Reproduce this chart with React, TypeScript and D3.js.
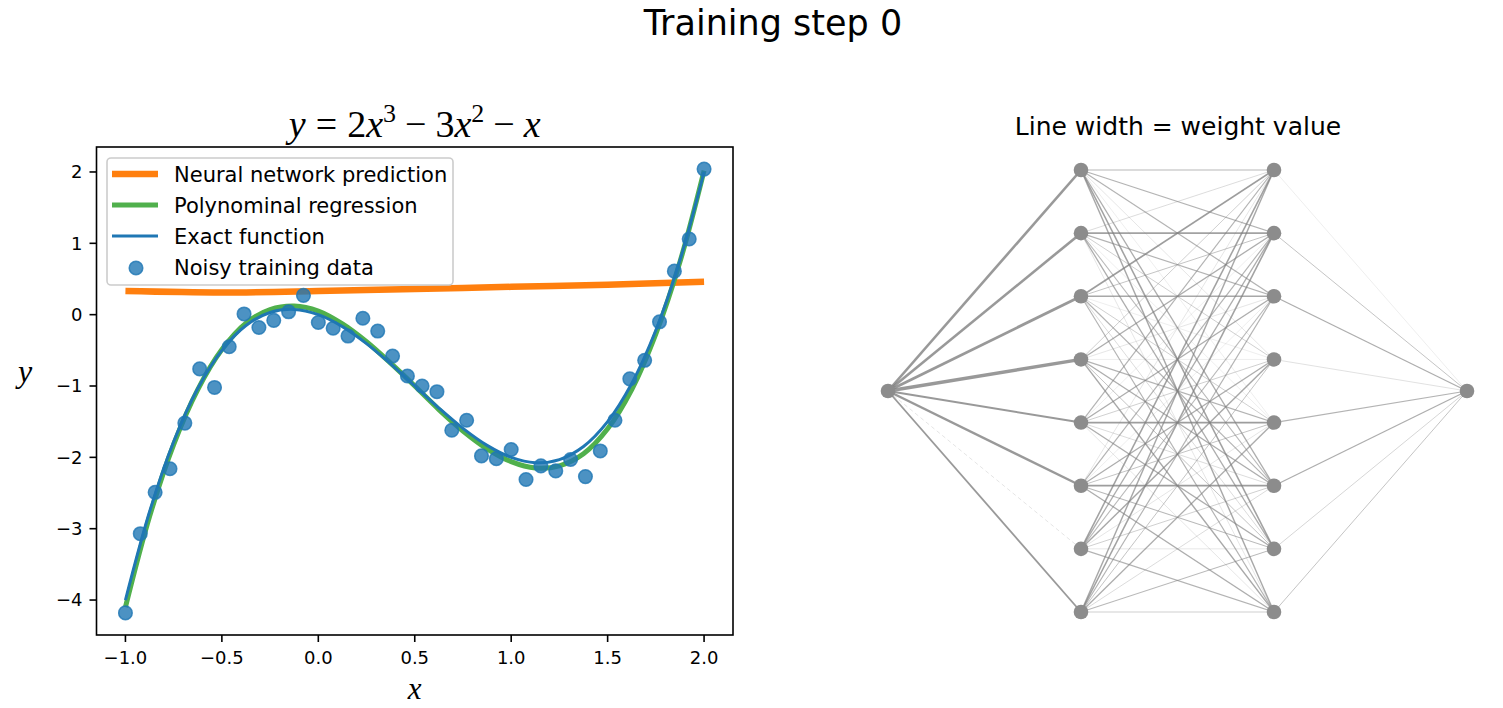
import React from 'react';
import * as d3 from 'd3';

// noisy samples
const dataX = [
  -1.0, -0.923, -0.846, -0.769, -0.692, -0.615, -0.538, -0.462, -0.385, -0.308,
  -0.231, -0.154, -0.077, 0.0, 0.077, 0.154, 0.231, 0.308, 0.385, 0.462,
  0.538, 0.615, 0.692, 0.769, 0.846, 0.923, 1.0, 1.077, 1.154, 1.231,
  1.308, 1.385, 1.462, 1.538, 1.615, 1.692, 1.769, 1.846, 1.923, 2.0,
];
const dataY = [
  -4.18, -3.07, -2.49, -2.16, -1.52, -0.76, -1.02, -0.45, 0.01, -0.18,
  -0.08, 0.04, 0.27, -0.11, -0.19, -0.3, -0.05, -0.23, -0.58, -0.86,
  -1.0, -1.08, -1.62, -1.48, -1.98, -2.02, -1.89, -2.31, -2.12, -2.19,
  -2.03, -2.27, -1.91, -1.48, -0.9, -0.64, -0.1, 0.61, 1.06, 2.04,
];

// sample positions for the smooth curves
const curveX = [
  -1.0, -0.875, -0.75, -0.625, -0.5, -0.375, -0.25, -0.125, 0.0, 0.125, 0.25, 0.375, 0.5,
  0.625, 0.75, 0.875, 1.0, 1.125, 1.25, 1.375, 1.5, 1.625, 1.75, 1.875, 2.0,
];
const exactY = [
  -4.0, -2.762, -1.781, -1.035, -0.5, -0.152, 0.031, 0.074, 0.0, -0.168, -0.406, -0.691, -1.0,
  -1.309, -1.594, -1.832, -2.0, -2.074, -2.031, -1.848, -1.5, -0.965, -0.219, 0.762, 2.0,
];
const polyY = [
  -4.1, -2.83, -1.82, -1.05, -0.49, -0.12, 0.07, 0.12, 0.05, -0.13, -0.38, -0.68, -1.0,
  -1.33, -1.63, -1.88, -2.06, -2.15, -2.12, -1.95, -1.6, -1.05, -0.27, 0.74, 2.02,
];
const nnX = [-1.0, -0.5, 0.0, 0.5, 1.0, 1.5, 2.0];
const nnY = [0.33, 0.31, 0.33, 0.36, 0.39, 0.42, 0.46];

const xTicks = [-1.0, -0.5, 0.0, 0.5, 1.0, 1.5, 2.0];
const xTickLabels = ['\u22121.0', '\u22120.5', '0.0', '0.5', '1.0', '1.5', '2.0'];
const yTicks = [2, 1, 0, -1, -2, -3, -4];
const yTickLabels = ['2', '1', '0', '\u22121', '\u22122', '\u22123', '\u22124'];

const legendLabels = [
  'Neural network prediction',
  'Polynominal regression',
  'Exact function',
  'Noisy training data',
];

// network: layer sizes and weights (line width = |weight|)
const layerSizes = [1, 8, 8, 1];
const weightsIn = [2.6, 2.6, 2.8, 3.4, 2.0, 2.4, -0.6, 1.8];
const weightsHidden = [
  [0.8, 0.9, 0.9, 0.4, 0.3, 1.0, 1.2, 1.1],
  [0.5, 1.2, 0.9, 0.6, 0.3, 0.8, 1.0, 0.4],
  [1.3, 0.7, 1.1, 0.3, 0.6, 0.9, 0.5, 0.9],
  [0.6, 1.0, 0.4, 0.3, 0.9, 1.0, 0.7, 1.1],
  [0.9, 0.3, 1.0, 0.6, 1.3, 0.5, 1.0, 0.4],
  [0.4, 0.9, 0.3, 1.0, 0.7, 1.3, 0.8, 1.0],
  [1.2, 1.0, 0.8, 1.1, 0.4, 0.6, 0.4, 0.9],
  [1.1, 1.2, 0.9, 0.7, 1.0, 0.5, 0.8, 0.6],
];
const weightsOut = [0.3, 0.7, 1.0, 0.45, 0.9, 1.0, 0.55, 0.7];

const W = 1503;
const H = 708;
const font = 'DejaVu Sans, sans-serif';
const mathFont = 'Liberation Serif, DejaVu Serif, serif';

function LeftPlot() {
  const m = { left: 96.5, right: 733, top: 147, bottom: 635 };
  const x = d3.scaleLinear().domain([-1.15, 2.15]).range([m.left, m.right]);
  const y = d3.scaleLinear().domain([-4.49, 2.35]).range([m.bottom, m.top]);

  const path = (xs: number[], ys: number[]) =>
    d3
      .line<number>()
      .curve(d3.curveCatmullRom)
      .x((_, i) => x(xs[i]))
      .y((_, i) => y(ys[i]))(xs);

  const cx = (m.left + m.right) / 2;
  const legendX = 107;
  const legendY = 158;
  const rowH = 31;
  const marker = {
    r: 6.8,
    fill: '#1f77b4',
    fillOpacity: 0.8,
    stroke: '#1f77b4',
    strokeOpacity: 0.8,
    strokeWidth: 1.5,
  };

  return (
    <g>
      <defs>
        <clipPath id="axclip">
          <rect x={m.left} y={m.top} width={m.right - m.left} height={m.bottom - m.top} />
        </clipPath>
      </defs>
      <g clipPath="url(#axclip)">
        <path d={path(nnX, nnY)} fill="none" stroke="#ff7f0e" strokeWidth={6.5} />
        <path d={path(curveX, polyY)} fill="none" stroke="#50b04c" strokeWidth={5} />
        <path d={path(curveX, exactY)} fill="none" stroke="#1f77b4" strokeWidth={3} />
        {dataX.map((d, i) => (
          <circle key={i} cx={x(d)} cy={y(dataY[i])} {...marker} />
        ))}
      </g>
      <rect
        x={m.left}
        y={m.top}
        width={m.right - m.left}
        height={m.bottom - m.top}
        fill="none"
        stroke="#000"
        strokeWidth={1.6}
      />
      {xTicks.map((t, i) => (
        <g key={i} transform={`translate(${x(t)},${m.bottom})`}>
          <line y2={7} stroke="#000" strokeWidth={1.6} />
          <text y={29} textAnchor="middle" fontFamily={font} fontSize={18} fill="#000">
            {xTickLabels[i]}
          </text>
        </g>
      ))}
      {yTicks.map((t, i) => (
        <g key={i} transform={`translate(${m.left},${y(t)})`}>
          <line x2={-7} stroke="#000" strokeWidth={1.6} />
          <text x={-14} dy="0.35em" textAnchor="end" fontFamily={font} fontSize={18} fill="#000">
            {yTickLabels[i]}
          </text>
        </g>
      ))}
      <text x={cx} y={699} textAnchor="middle" fontFamily={mathFont} fontStyle="italic" fontSize={31}>
        x
      </text>
      <text x={25} y={382} textAnchor="middle" fontFamily={mathFont} fontStyle="italic" fontSize={32}>
        y
      </text>
      <text x={cx} y={137} textAnchor="middle" fontFamily={mathFont} fontSize={38}>
        <tspan fontStyle="italic">y</tspan>
        <tspan dx={10}>=</tspan>
        <tspan dx={10}>2</tspan>
        <tspan fontStyle="italic">x</tspan>
        <tspan dy={-15} fontSize={26}>3</tspan>
        <tspan dy={15} dx={9}>{'\u2212'}</tspan>
        <tspan dx={9}>3</tspan>
        <tspan fontStyle="italic">x</tspan>
        <tspan dy={-15} fontSize={26}>2</tspan>
        <tspan dy={15} dx={9}>{'\u2212'}</tspan>
        <tspan dx={9} fontStyle="italic">x</tspan>
      </text>

      <rect
        x={legendX}
        y={legendY}
        width={346}
        height={127}
        rx={4}
        fill="#fff"
        fillOpacity={0.8}
        stroke="#cccccc"
        strokeWidth={1.6}
      />
      {legendLabels.map((label, i) => {
        const ry = legendY + 16 + i * rowH;
        return (
          <g key={i}>
            {i === 0 && <line x1={112} x2={158} y1={ry} y2={ry} stroke="#ff7f0e" strokeWidth={6.5} />}
            {i === 1 && <line x1={112} x2={158} y1={ry} y2={ry} stroke="#50b04c" strokeWidth={5} />}
            {i === 2 && <line x1={112} x2={158} y1={ry} y2={ry} stroke="#1f77b4" strokeWidth={3} />}
            {i === 3 && <circle cx={136} cy={ry + 1} {...marker} />}
            <text x={174} y={ry} dy="0.36em" fontFamily={font} fontSize={21} fill="#000">
              {label}
            </text>
          </g>
        );
      })}
    </g>
  );
}

function Network() {
  const lx = d3.scaleLinear().domain([0, layerSizes.length - 1]).range([888, 1467]);
  const ny = d3.scaleLinear().domain([0, 7]).range([170, 612]);

  const nodePos = (layer: number, i: number) => {
    const n = layerSizes[layer];
    const off = (7 - (n - 1)) / 2;
    return [lx(layer), ny(i + off)];
  };

  type Edge = { x1: number; y1: number; x2: number; y2: number; w: number; first: boolean };
  const edges: Edge[] = [];
  weightsIn.forEach((w, k) => {
    const [x1, y1] = nodePos(0, 0);
    const [x2, y2] = nodePos(1, k);
    edges.push({ x1, y1, x2, y2, w, first: true });
  });
  weightsHidden.forEach((row, j) =>
    row.forEach((w, k) => {
      const [x1, y1] = nodePos(1, j);
      const [x2, y2] = nodePos(2, k);
      edges.push({ x1, y1, x2, y2, w, first: false });
    })
  );
  weightsOut.forEach((w, j) => {
    const [x1, y1] = nodePos(2, j);
    const [x2, y2] = nodePos(3, 0);
    edges.push({ x1, y1, x2, y2, w, first: false });
  });

  const nodes: number[][] = [];
  layerSizes.forEach((n, l) => d3.range(n).forEach((i) => nodes.push(nodePos(l, i))));

  return (
    <g>
      <text x={1178} y={135} textAnchor="middle" fontFamily={font} fontSize={25} fill="#000">
        Line width = weight value
      </text>
      {edges.map((e, i) => {
        const a = Math.abs(e.w);
        const neg = e.w < 0;
        const width = e.first ? a : a * 1.3;
        const op = neg ? 0.35 : e.first ? 0.8 : 0.22 + 0.55 * Math.min(a / 1.3, 1);
        return (
          <line
            key={i}
            x1={e.x1}
            y1={e.y1}
            x2={e.x2}
            y2={e.y2}
            stroke="#808080"
            strokeWidth={width}
            strokeOpacity={op}
            strokeDasharray={neg ? '4 3' : undefined}
          />
        );
      })}
      {nodes.map(([cx, cy], i) => (
        <circle key={i} cx={cx} cy={cy} r={7.3} fill="#8c8c8c" />
      ))}
    </g>
  );
}

export default function App() {
  return (
    <div style={{ position: 'absolute', left: 0, top: 0 }}>
      <svg width={W} height={H} viewBox={`0 0 ${W} ${H}`} style={{ display: 'block', background: '#fff' }}>
        <text x={773} y={35} textAnchor="middle" fontFamily={font} fontSize={35} fill="#000">
          Training step 0
        </text>
        <LeftPlot />
        <Network />
      </svg>
    </div>
  );
}
